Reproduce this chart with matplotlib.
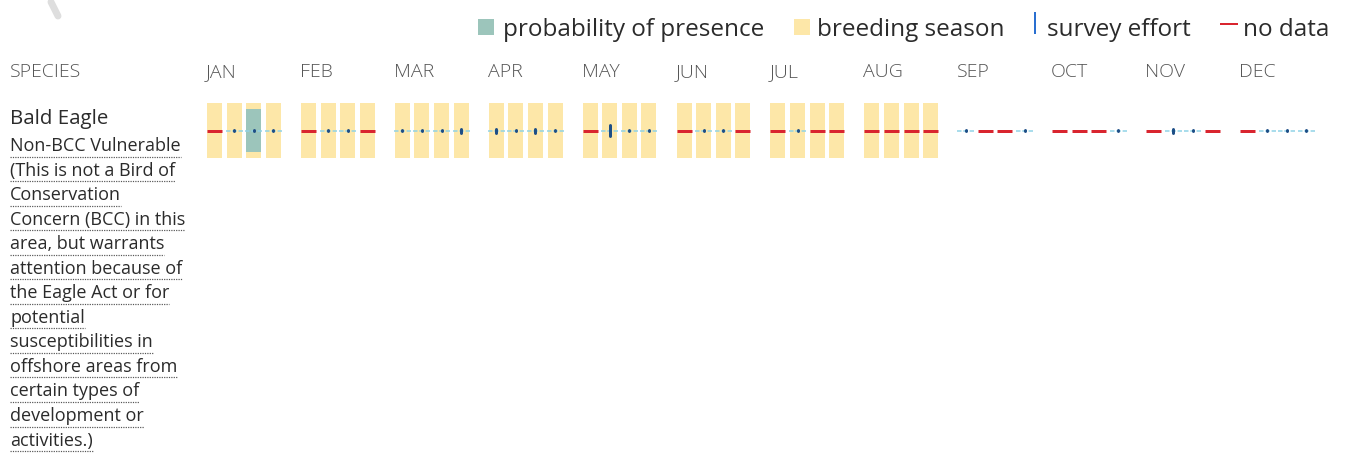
import numpy as np
import matplotlib.pyplot as plt
from matplotlib.patches import Rectangle

plt.rcParams['font.family'] = ['Open Sans', 'DejaVu Sans']

# Data
months = ["JAN", "FEB", "MAR", "APR", "MAY", "JUN",
          "JUL", "AUG", "SEP", "OCT", "NOV", "DEC"]
species = "Bald Eagle"
status_lines = ["Non-BCC Vulnerable", "(This is not a Bird of", "Conservation",
                "Concern (BCC) in this", "area, but warrants",
                "attention because of", "the Eagle Act or for", "potential",
                "susceptibilities in", "offshore areas from",
                "certain types of", "development or", "activities.)"]

# one value per week, 4 weeks per month
breeding = [1] * 32 + [0] * 16
presence = [0, 0, 0.78, 0] + [0] * 44
no_data = [1, 0, 0, 0,  1, 0, 0, 1,  0, 0, 0, 0,  0, 0, 0, 0,
           1, 0, 0, 0,  1, 0, 0, 1,  1, 0, 1, 1,  1, 1, 1, 1,
           0, 1, 1, 0,  1, 1, 1, 0,  1, 0, 0, 1,  1, 0, 0, 0]
effort = [0, 1, 1, 1,  0, 1, 1, 0,  1, 1, 1, 2,  2, 1, 2, 1,
          0, 4, 1, 1,  0, 1, 1, 0,  0, 1, 0, 0,  0, 0, 0, 0,
          1, 0, 0, 1,  0, 0, 0, 1,  0, 2, 1, 0,  0, 1, 1, 1]

legend_labels = ["probability of presence", "breeding season",
                 "survey effort", "no data"]

# colours
c_breed = "#fde7a8"
c_prob = "#9cc5bb"
c_effort_line = "#8fd2e6"
c_effort_tick = "#1d4e86"
c_nodata = "#d9252f"
c_text = "#2b2b2b"
c_month = "#555555"

fig = plt.figure(figsize=(13.45, 4.53), dpi=100)
ax = fig.add_axes([0, 0, 1, 1])
ax.set_xlim(0, 1345)
ax.set_ylim(453, 0)
ax.axis("off")

# layout (pixels)
x0, month_step, week_step, bar_w = 207, 93.9, 19.6, 15
bar_top, bar_h, line_y = 103, 55, 130.5
px = 0.72  # points per pixel

weeks = np.arange(48)
xs = x0 + (weeks // 4) * month_step + (weeks % 4) * week_step
breeding = np.array(breeding)
presence = np.array(presence)
no_data = np.array(no_data)
effort = np.array(effort)

# breeding season bars
b = breeding == 1
ax.bar(xs[b], bar_h, width=bar_w, bottom=bar_top, align="edge",
       color=c_breed, linewidth=0)

# probability of presence
p = presence > 0
ax.bar(xs[p], presence[p] * bar_h, width=bar_w,
       bottom=line_y - presence[p] * bar_h / 2, align="edge",
       color=c_prob, linewidth=0)

# no data
for x in xs[no_data == 1]:
    ax.plot([x, x + bar_w], [line_y, line_y], color=c_nodata,
            lw=3 * px, solid_capstyle="butt")

# survey effort
tick_h = [0, 0.5, 4, 7, 11]
for x, e in zip(xs, effort):
    if e == 0:
        continue
    ax.plot([x - 1, x + bar_w + 1], [line_y, line_y], color=c_effort_line,
            lw=1.5 * px, linestyle=(0, (3, 1.2)))
    h = tick_h[e]
    ax.plot([x + bar_w / 2, x + bar_w / 2], [line_y - h / 2, line_y + h / 2],
            color=c_effort_tick, lw=3 * px, solid_capstyle="round")

# header
ax.text(10, 72, "SPECIES", fontsize=14, color=c_month, weight="light",
        va="center", ha="left")
for i, m in enumerate(months):
    ax.text(x0 + i * month_step - 1, 72, m, fontsize=14, color=c_month,
            weight="light", va="center", ha="left")

# legend
lb = 36  # text baseline
fs = 17.5
ax.add_patch(Rectangle((478, 19), 16, 16, color=c_prob, lw=0))
ax.text(503, lb, legend_labels[0], fontsize=fs, color=c_text, va="baseline")
ax.add_patch(Rectangle((794, 19), 16, 16, color=c_breed, lw=0))
ax.text(817, lb, legend_labels[1], fontsize=fs, color=c_text, va="baseline")
ax.plot([1035, 1035], [13, 33], color="#2a6fd0", lw=2 * px)
ax.text(1047, lb, legend_labels[2], fontsize=fs, color=c_text, va="baseline")
ax.plot([1221, 1237], [24, 24], color=c_nodata, lw=2 * px)
ax.text(1243, lb, legend_labels[3], fontsize=fs, color=c_text, va="baseline")

# smudge in the corner of the scan
ax.plot([51, 58], [2, 16], color="#c8c8c8", lw=5, alpha=0.6,
        solid_capstyle="round")

# species name and status with dotted underline
ax.text(10, 119, species, fontsize=14.75, color=c_text, va="center")
texts = []
for i, line in enumerate(status_lines):
    t = ax.text(10, 146 + i * 24.55, line, fontsize=13, color=c_text,
                va="center")
    texts.append(t)

fig.canvas.draw()
inv = ax.transData.inverted()
for i, t in enumerate(texts):
    bb = t.get_window_extent()
    (xa, _), (xb, _) = inv.transform([(bb.x0, bb.y0), (bb.x1, bb.y0)])
    yu = 146 + i * 24.55 + 10.5
    ax.plot([xa, xb], [yu, yu], color="#555555", lw=1.2 * px,
            linestyle=(0, (1, 1)))

fig.savefig("out.png", dpi=100)
